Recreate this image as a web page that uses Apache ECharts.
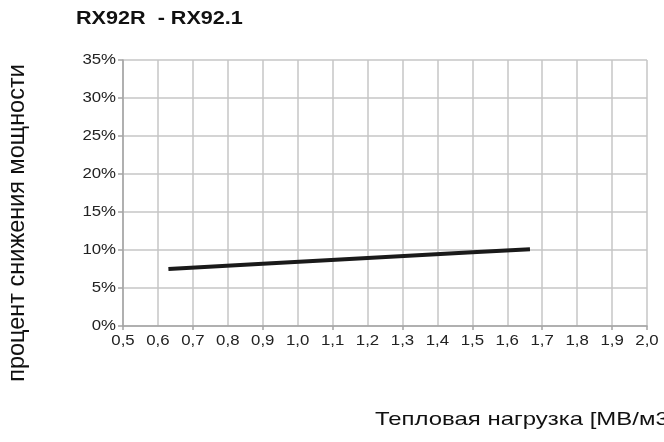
<!DOCTYPE html>
<html>
<head>
<meta charset="utf-8">
<script src="https://cdn.jsdelivr.net/npm/echarts@6/dist/echarts.min.js"></script>
<style>
  html, body { margin: 0; padding: 0; background: #fff; }
  #chart { width: 664px; height: 442px; }
</style>
</head>
<body>
<div id="chart"></div>
<script>
// Heat load (MW/m3) vs. power reduction percentage
const titleText = 'RX92R  - RX92.1';
const yAxisTitle = 'процент снижения мощности';
const xAxisTitle = 'Тепловая нагрузка [МВ/м3]';

const heatLoad = [0.63, 0.9, 1.2, 1.5, 1.665];
const reduction = [7.5, 8.2, 8.95, 9.7, 10.1];

const xTicks = [0.5, 0.6, 0.7, 0.8, 0.9, 1.0, 1.1, 1.2, 1.3, 1.4, 1.5, 1.6, 1.7, 1.8, 1.9, 2.0];
const yTicks = [0, 5, 10, 15, 20, 25, 30, 35];

const xMin = xTicks[0], xMax = xTicks[xTicks.length - 1], xStep = 0.1;
const yMin = yTicks[0], yMax = yTicks[yTicks.length - 1], yStep = 5;

const chart = echarts.init(document.getElementById('chart'), null, { renderer: 'canvas' });
const font = 'Liberation Sans, Arial, sans-serif';
const fmtX = v => v.toFixed(1).replace('.', ',');
const fmtY = v => v + '%';

// Slightly widened lettering for the tick labels, drawn as graphic texts
const labelStretch = 1.12;

chart.setOption({
  animation: false,
  backgroundColor: '#ffffff',
  grid: { left: 123, right: 17, top: 60, bottom: 116, containLabel: false },
  xAxis: [{
    type: 'value', min: xMin, max: xMax, interval: xStep,
    axisLine: { show: true, lineStyle: { color: '#a4a4a4', width: 1.5 } },
    axisTick: { show: false },
    splitLine: { show: true, lineStyle: { color: '#c6c6c6', width: 1.5 } },
    axisLabel: { show: false }
  }, {
    type: 'value', min: xMin, max: xMax, interval: 0.2, position: 'bottom',
    axisLine: { show: false },
    axisTick: { show: true, length: 4, lineStyle: { color: '#a4a4a4', width: 1.5 } },
    splitLine: { show: false },
    axisLabel: { show: false }
  }],
  yAxis: {
    type: 'value', min: yMin, max: yMax, interval: yStep,
    axisLine: { show: true, lineStyle: { color: '#a4a4a4', width: 1.5 } },
    axisTick: { show: true, length: 5, lineStyle: { color: '#a4a4a4', width: 1.5 } },
    splitLine: { show: true, lineStyle: { color: '#c6c6c6', width: 1.5 } },
    axisLabel: { show: false }
  },
  series: [{
    type: 'line',
    xAxisIndex: 0,
    data: heatLoad.map((x, i) => [x, reduction[i]]),
    showSymbol: false,
    smooth: false,
    lineStyle: { color: '#1a1a1a', width: 4, cap: 'butt' }
  }]
});

// Tick labels positioned through the axis scales
const tickLabels = [];
yTicks.forEach(v => {
  const p = chart.convertToPixel({ gridIndex: 0 }, [xMin, v]);
  tickLabels.push({
    type: 'text', x: 116, y: p[1], scaleX: labelStretch,
    style: { text: fmtY(v), font: '15px ' + font, fill: '#222', textAlign: 'right', textVerticalAlign: 'middle' }
  });
});
xTicks.forEach(v => {
  const p = chart.convertToPixel({ gridIndex: 0 }, [v, yMin]);
  tickLabels.push({
    type: 'text', x: p[0], y: 341, scaleX: labelStretch,
    style: { text: fmtX(v), font: '15px ' + font, fill: '#222', textAlign: 'center', textVerticalAlign: 'middle' }
  });
});

chart.setOption({
  graphic: tickLabels.concat([
    { type: 'text', x: 76, y: 19, scaleX: 1.2,
      style: { text: titleText, font: 'bold 18px ' + font, fill: '#111', textAlign: 'left', textVerticalAlign: 'middle' } },
    { type: 'text', x: 18, y: 223, rotation: Math.PI / 2,
      style: { text: yAxisTitle, font: '23.5px ' + font, fill: '#111', textAlign: 'center', textVerticalAlign: 'middle' } },
    { type: 'text', x: 375, y: 420, scaleX: 1.26,
      style: { text: xAxisTitle, font: '19px ' + font, fill: '#111', textAlign: 'left', textVerticalAlign: 'middle' } }
  ])
});
</script>
</body>
</html>
